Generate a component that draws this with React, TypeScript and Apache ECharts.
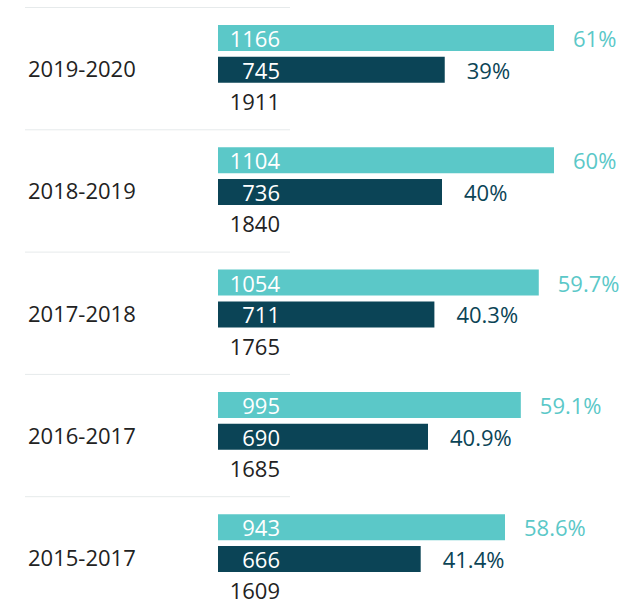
import React, { useEffect, useRef } from "react";
import * as echarts from "echarts";

const categories = ["2019-2020", "2018-2019", "2017-2018", "2016-2017", "2015-2017"];
const tealValues = [1166, 1104, 1054, 995, 943];
const darkValues = [745, 736, 711, 690, 666];
const totals = [1911, 1840, 1765, 1685, 1609];
const tealPct = [61, 60, 59.7, 59.1, 58.6];
const darkPct = [39, 40, 40.3, 40.9, 41.4];
const axisMax = 1104;

const TEAL = "#5bc8c8";
const DARK = "#0b4456";
const TEXT = "#222222";
const FONT = '"Open Sans", sans-serif';

export default function App() {
  const ref = useRef<HTMLDivElement>(null);
  useEffect(() => {
    if (!ref.current) return;
    const chart = echarts.init(ref.current, null, { renderer: "svg" });
    const data = categories.map((_, i) => [tealValues[i], darkValues[i], totals[i], tealPct[i], darkPct[i], i]);
    chart.setOption({
      animation: false,
      grid: { left: 218, right: 81, top: 7, bottom: 6.5 },
      xAxis: { type: "value", min: 0, max: axisMax, show: false },
      yAxis: {
        type: "category",
        data: categories,
        inverse: true,
        axisLine: { show: false },
        axisTick: { show: false },
        splitLine: { show: false },
        axisLabel: {
          margin: 190,
          align: "left",
          color: TEXT,
          fontSize: 22,
          fontFamily: FONT,
        },
      },
      series: [
        {
          type: "custom",
          data,
          encode: { x: 0, y: 5 },
          renderItem: (params: any, api: any) => {
            const idx = api.value(5);
            const cs = params.coordSys;
            const xLeft = cs.x;
            const xRight = cs.x + cs.width;
            const center = api.coord([0, idx]);
            const band = api.size([0, 1])[1];
            const top = center[1] - band / 2;
            const tv = api.value(0);
            const dv = api.value(1);
            const tot = api.value(2);
            const tp = api.value(3);
            const dp = api.value(4);
            const tealEnd = Math.min(api.coord([tv, idx])[0], xRight);
            const darkEnd = Math.min(api.coord([dv, idx])[0], xRight);
            const barH = band * 0.2126;
            const tealY = top + band * 0.147;
            const darkY = top + band * 0.407;
            const totalY = top + band * 0.769;
            const font = { fontSize: 22, fontFamily: FONT };
            return {
              type: "group",
              children: [
                {
                  type: "line",
                  shape: { x1: 25, y1: top + 0.5, x2: 290, y2: top + 0.5 },
                  style: { stroke: "#e6eaeb", lineWidth: 1 },
                },
                {
                  type: "rect",
                  shape: { x: xLeft, y: tealY, width: tealEnd - xLeft, height: barH },
                  style: { fill: TEAL },
                },
                {
                  type: "rect",
                  shape: { x: xLeft, y: darkY, width: darkEnd - xLeft, height: barH },
                  style: { fill: DARK },
                },
                {
                  type: "text",
                  x: xLeft + 62,
                  y: tealY + barH / 2,
                  style: { text: String(tv), fill: "#ffffff", align: "right", verticalAlign: "middle", ...font },
                },
                {
                  type: "text",
                  x: xLeft + 62,
                  y: darkY + barH / 2,
                  style: { text: String(dv), fill: "#ffffff", align: "right", verticalAlign: "middle", ...font },
                },
                {
                  type: "text",
                  x: xLeft + 62,
                  y: totalY,
                  style: { text: String(tot), fill: TEXT, align: "right", verticalAlign: "middle", ...font },
                },
                {
                  type: "text",
                  x: tealEnd + 19,
                  y: tealY + barH / 2,
                  style: { text: tp + "%", fill: TEAL, align: "left", verticalAlign: "middle", ...font },
                },
                {
                  type: "text",
                  x: darkEnd + 22,
                  y: darkY + barH / 2,
                  style: { text: dp + "%", fill: DARK, align: "left", verticalAlign: "middle", ...font },
                },
              ],
            };
          },
        },
      ],
    });
    return () => chart.dispose();
  }, []);
  return (
    <div
      style={{ position: "absolute", left: 0, top: 0, width: 635, height: 613, overflow: "hidden", background: "#ffffff" }}
    >
      <div ref={ref} style={{ width: 635, height: 625 }} />
    </div>
  );
}
